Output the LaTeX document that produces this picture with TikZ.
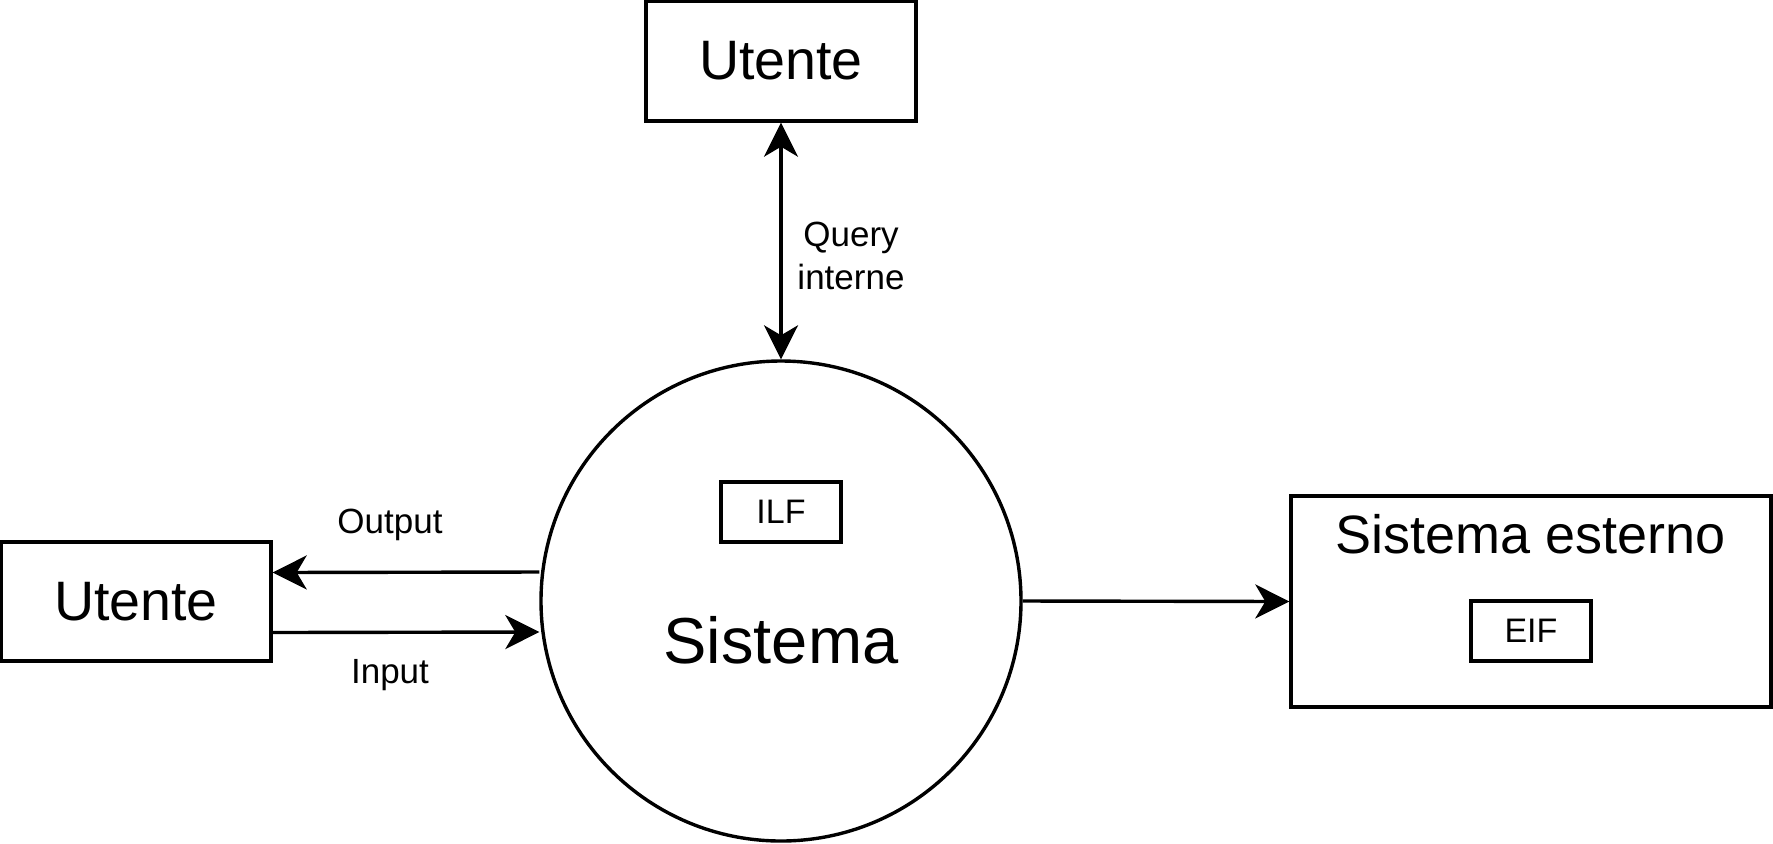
\documentclass[tikz,border=0pt]{standalone}
\usepackage{fontspec}
\setmainfont{Liberation Sans}
\usetikzlibrary{arrows.meta, positioning}

\begin{document}
\begin{tikzpicture}[
                x=0.5pt, y=-0.5pt,
                line width=1.7pt,
                >={Stealth[length=17pt, width=17pt, inset=5pt]},
                entity/.style={
                        draw, minimum width=135pt, minimum height=60pt,
                        inner sep=0pt, font=\fontsize{27.8}{32}\selectfont
                    },
                store/.style={
                        draw, minimum width=60pt, minimum height=30pt,
                        inner sep=0pt, font=\fontsize{17}{20}\selectfont
                    },
                flowlbl/.style={
                        align=center, inner sep=0pt,
                        font=\fontsize{17.5}{21.5}\selectfont
                    },
                arr/.style={->},
                ]

                \useasboundingbox (0,0) rectangle (1773,843);

                % process
                \node[draw, circle, minimum size=240pt, inner sep=0pt] (sys) at (781,601) {};
                \node[inner sep=0pt, font=\fontsize{32.5}{38}\selectfont] (sysT) at (781,640) {Sistema};
                \node[store] (ilf) at (781,512) {ILF};

                % external entities
                \node[entity] (uT) at (781,61) {Utente};
                \node[entity, minimum height=59.5pt] (uL) at (136,601.5) {Utente};
                \node[draw, minimum width=240pt, minimum height=105.5pt] (ext) at (1531,601.5) {};
                \node[inner sep=0pt, font=\fontsize{27}{32}\selectfont] (extT) at (1531,534) {Sistema esterno};
                \node[store] (eif) at (1531,631) {EIF};

                % flows
                \draw[<->] (uT.south) -- (sys.north);
                \draw[arr] ([yshift=14.5pt]sys.west) -- ([yshift=14.5pt]uL.east);
                \draw[arr] ([yshift=-15.5pt]uL.east) -- ([yshift=-15.5pt]sys.west);
                \draw[arr] (sys.east) -- (ext.west);

                \node[flowlbl] (qLbl) at (851,256) {Query\\interne};
                \node[flowlbl] (outLbl) at (390,525) {Output};
                \node[flowlbl] (inLbl) at (390,675) {Input};
            \end{tikzpicture}
\end{document}
